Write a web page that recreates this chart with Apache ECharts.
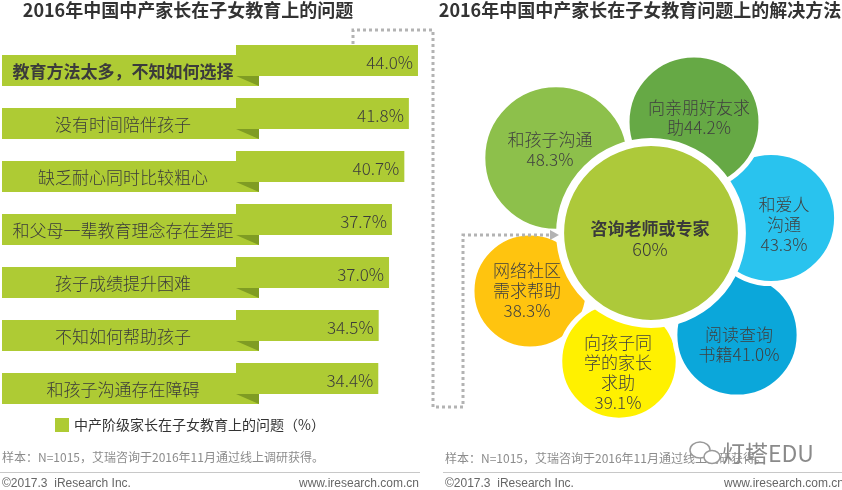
<!DOCTYPE html>
<html><head><meta charset="utf-8">
<script src="https://cdn.jsdelivr.net/npm/echarts@6/dist/echarts.min.js"></script>
<style>html,body{margin:0;padding:0;background:#fff}#c{width:842px;height:490px}</style>
</head><body><div id="c"></div>
<script>
// ---- data ----
const problemCategories = ['教育方法太多，不知如何选择','没有时间陪伴孩子','缺乏耐心同时比较粗心','和父母一辈教育理念存在差距','孩子成绩提升困难','不知如何帮助孩子','和孩子沟通存在障碍'];
const problemValues = [44.0, 41.8, 40.7, 37.7, 37.0, 34.5, 34.4];
const problemSeriesName = '中产阶级家长在子女教育上的问题（%）';
const solutionNames = ['咨询老师或专家','和孩子沟通','向亲朋好友求\n助','和爱人\n沟通','阅读查询\n书籍','向孩子同\n学的家长\n求助','网络社区\n需求帮助'];
const solutionValues = [60, 48.3, 44.2, 43.3, 41.0, 39.1, 38.3];
const titles = ['2016年中国中产家长在子女教育上的问题','2016年中国中产家长在子女教育问题上的解决方法'];
const noteText = '样本：N=1015，艾瑞咨询于2016年11月通过线上调研获得。';
const copyText = '©2017.3  iResearch Inc.';
const siteText = 'www.iresearch.com.cn';
const markText = '灯塔EDU';

// ---- layout / style ----
const CJK = '"Noto Sans CJK SC", "Noto Sans", sans-serif';
const BAR = '#aecb34', FOLD = '#7f9c23', TXT = '#3b3b3b';
const petalCenters = [[651,233],[556,158],[694,122],[771,218],[737,335],[619,361],[530,291]];
const petalColors = ['#adc93a','#8dc04b','#66a945','#29c3ee','#0ba7da','#fff100','#ffc40f'];
const petalBorders = [8,5,5,5,5,5,5];
const valueJoin = ['\n','\n','','\n','','\n','\n'];
const labelOffsets = [[-1,6],[-6,-8],[5,-4],[13,7],[2,10],[-1,12],[-3,0]];
const drawOrder = [6,5,4,3,2,1,0];
const SIZE_K = 3.03;

const chart = echarts.init(document.getElementById('c'), null, {renderer:'canvas'});

function barItem(params, api) {
  const v = api.value(0), idx = api.value(1);
  const p0 = api.coord([0, idx]), p1 = api.coord([v, idx]);
  const yc = p0[1], x0 = p0[0], x1 = p1[0];
  const h = 31, top = yc - 15.5, bandTop = top + 10, foldW = 23;
  const i = params.dataIndex;
  return {type:'group', children:[
    {type:'rect', shape:{x:2, y:bandTop, width:x0 + foldW - 2, height:h}, style:{fill:BAR}},
    {type:'rect', shape:{x:x0, y:top, width:x1 - x0, height:h}, style:{fill:BAR}},
    {type:'polygon', shape:{points:[[x0, top + h],[x0 + foldW, top + h],[x0 + foldW, bandTop + h]]}, style:{fill:FOLD}},
    {type:'text', style:{text:problemCategories[i], x:123, y:bandTop + h/2 + 1, align:'center', verticalAlign:'middle',
      fontSize:17, fontFamily:CJK, fontWeight: i === 0 ? 'bold' : 300, fill:TXT}},
    {type:'text', style:{text:v.toFixed(1) + '%', x:x1 - 5, y:yc + 2.5, align:'right', verticalAlign:'middle',
      fontSize:17, fontFamily:CJK, fontWeight:300, fill:TXT}}
  ]};
}

const scatterData = drawOrder.map(i => ({
  name: solutionNames[i].replace(/\n/g,''),
  value: [petalCenters[i][0], petalCenters[i][1], solutionValues[i]],
  itemStyle: {color: petalColors[i], borderWidth: petalBorders[i]},
  label: i === 0 ? {
    formatter: '{b|' + solutionNames[i] + '}\n{n|' + solutionValues[i] + '%}',
    offset: labelOffsets[i],
    rich: {b:{fontSize:17, fontWeight:'bold', fontFamily:CJK, color:'#3a3a3a', lineHeight:21},
           n:{fontSize:18, fontWeight:300, fontFamily:CJK, color:'#3a3a3a', lineHeight:21}}
  } : {
    formatter: solutionNames[i] + valueJoin[i] + solutionValues[i].toFixed(1) + '%',
    offset: labelOffsets[i]
  }
}));

const dotted = {stroke:'#b3b3b3', lineWidth:3, lineDash:[3,3], fill:null};

const option = {
  animation:false,
  backgroundColor:'#fff',
  grid:[
    {left:236, top:34, width:206.8, height:371},
    {left:0, top:0, width:842, height:490}
  ],
  xAxis:[
    {type:'value', gridIndex:0, min:0, max:50, show:false},
    {type:'value', gridIndex:1, min:0, max:842, show:false}
  ],
  yAxis:[
    {type:'category', gridIndex:0, data:problemCategories, inverse:true, show:false},
    {type:'value', gridIndex:1, min:0, max:490, inverse:true, show:false}
  ],
  legend:{
    data:[{name:problemSeriesName, icon:'rect'}],
    left:50, top:413, itemWidth:14, itemHeight:14, itemGap:5,
    textStyle:{fontSize:14, fontFamily:CJK, color:'#333'}
  },
  series:[
    {type:'custom', name:problemSeriesName, xAxisIndex:0, yAxisIndex:0,
     itemStyle:{color:BAR}, renderItem:barItem,
     encode:{x:0, y:1},
     data: problemValues.map((v,i) => [v, i]), z:2},
    {type:'scatter', xAxisIndex:1, yAxisIndex:1, symbol:'circle',
     symbolSize: val => val[2] * SIZE_K,
     itemStyle:{borderColor:'#fff', opacity:1},
     label:{show:true, position:'inside', fontSize:17, lineHeight:20, fontFamily:CJK, fontWeight:300, color:'#404040'},
     emphasis:{disabled:true},
     data: scatterData, z:2}
  ],
  graphic:[
    {type:'text', x:188, y:10, z:5, style:{text:titles[0], textAlign:'center', textVerticalAlign:'middle', font:'bold 18px ' + CJK, fill:'#333'}},
    {type:'text', x:640, y:10, z:5, style:{text:titles[1], textAlign:'center', textVerticalAlign:'middle', font:'bold 18px ' + CJK, fill:'#333'}},
    {type:'polyline', z:10, shape:{points:[[353,44],[353,30],[433,30],[433,407],[463,407],[463,235],[551,235]]}, style:dotted},
    {type:'polygon', z:10, shape:{points:[[550,230],[559,235],[550,240]]}, style:{fill:'#b3b3b3'}},
    // footers
    {type:'text', x:2, y:457, style:{text:noteText, textVerticalAlign:'middle', font:'12px ' + CJK, fill:'#8c8c8c'}},
    {type:'text', x:445, y:458, style:{text:noteText, textVerticalAlign:'middle', font:'12px ' + CJK, fill:'#8c8c8c'}},
    {type:'line', shape:{x1:0, y1:472.5, x2:420, y2:472.5}, style:{stroke:'#c8c8c8', lineWidth:1}},
    {type:'line', shape:{x1:443, y1:472.5, x2:842, y2:472.5}, style:{stroke:'#c8c8c8', lineWidth:1}},
    {type:'text', x:2, y:484, style:{text:copyText, textVerticalAlign:'middle', font:'12px "Liberation Sans", Arial, sans-serif', fill:'#666'}},
    {type:'text', x:419, y:484, style:{text:siteText, textAlign:'right', textVerticalAlign:'middle', font:'12px "Liberation Sans", Arial, sans-serif', fill:'#666'}},
    {type:'text', x:445, y:484, style:{text:copyText, textVerticalAlign:'middle', font:'12px "Liberation Sans", Arial, sans-serif', fill:'#666'}},
    {type:'text', x:844, y:484, style:{text:siteText, textAlign:'right', textVerticalAlign:'middle', font:'12px "Liberation Sans", Arial, sans-serif', fill:'#666'}},
    // watermark
    {type:'ellipse', z:20, shape:{cx:700, cy:450, rx:10, ry:8}, style:{fill:'#fff', stroke:'#9a9a9a', lineWidth:1.5}},
    {type:'ellipse', z:21, shape:{cx:712, cy:457, rx:8, ry:6.5}, style:{fill:'#fff', stroke:'#9a9a9a', lineWidth:1.5}},
    {type:'text', z:22, x:722, y:453, style:{text:markText, textVerticalAlign:'middle', font:'23px ' + CJK, fill:'#8a8a8a'}}
  ]
};
chart.setOption(option);
</script>
</body></html>
